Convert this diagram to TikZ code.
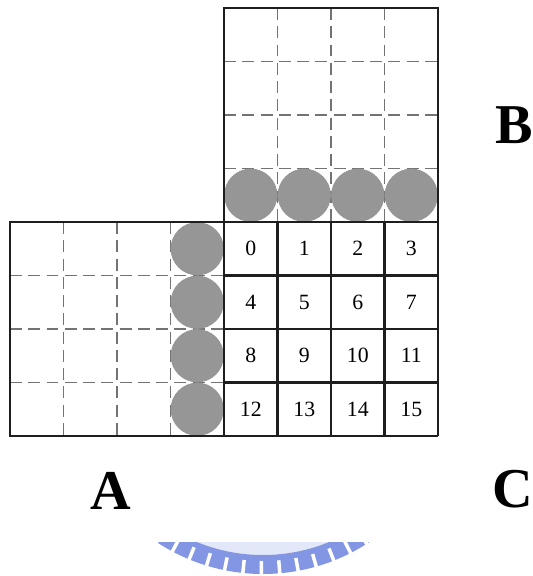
\documentclass[tikz,border=0pt]{standalone}
\usepackage{fontspec}
\setmainfont{Liberation Serif}
\definecolor{circgray}{RGB}{150,150,150}
\definecolor{dashgray}{RGB}{115,115,115}
\definecolor{linegray}{RGB}{30,30,30}
\definecolor{markblue}{RGB}{130,150,228}
\newcommand{\cs}{53.5}

\tikzset{
  solidline/.style={line width=3pt,linegray},
  dashline/.style={line width=2.4pt,dashgray,dash pattern=on 17pt off 9pt},
  token/.style={fill=circgray},
  cellnum/.style={font=\fontsize{31}{31}\selectfont,inner sep=0pt},
  blocklabel/.style={font=\fontsize{80}{80}\selectfont\bfseries,inner sep=0pt},
}

\begin{document}
\begin{tikzpicture}[x=0.05cm,y=-0.05cm]
    \useasboundingbox (0,0) rectangle (532,576);

    % Block B: dashed cells, tokens in the bottom row
    \begin{scope}[shift={(224,8)}]
        \foreach \i in {1,2,3} {
            \draw[dashline] (\i*\cs,0) -- (\i*\cs,4*\cs);
            \draw[dashline] (0,\i*\cs) -- (4*\cs,\i*\cs);
        }
        \foreach \i in {0,...,3}
            \fill[token] ({(\i+0.5)*\cs},{3.5*\cs}) circle (1.33cm);
        \draw[solidline] (0,4*\cs) -- (0,0) -- (4*\cs,0) -- (4*\cs,4*\cs);
    \end{scope}

    % Block A: dashed cells, tokens in the right column
    \begin{scope}[shift={(10,222)}]
        \foreach \i in {1,2,3} {
            \draw[dashline] (\i*\cs,0) -- (\i*\cs,4*\cs);
            \draw[dashline] (0,\i*\cs) -- (4*\cs,\i*\cs);
        }
        \foreach \i in {0,...,3}
            \fill[token] ({3.5*\cs},{(\i+0.5)*\cs}) circle (1.33cm);
        \draw[solidline] (4*\cs,0) -- (0,0) -- (0,4*\cs) -- (4*\cs,4*\cs);
    \end{scope}

    % Block C: numbered cells
    \begin{scope}[shift={(224,222)}]
        \foreach \i in {0,...,4} {
            \draw[solidline] (\i*\cs,0) -- (\i*\cs,4*\cs);
            \draw[solidline] (0,\i*\cs) -- (4*\cs,\i*\cs);
        }
        \foreach \r in {0,...,3}
            \foreach \c in {0,...,3} {
                \pgfmathtruncatemacro{\n}{4*\r+\c}
                \node[cellnum] (c\n) at ({(\c+0.5)*\cs},{(\r+0.5)*\cs}) {\n};
            }
    \end{scope}

    % Block labels
    \node[blocklabel,anchor=base] (labA) at (111,509) {A};
    \node[blocklabel,anchor=base west] (labB) at (495,143) {B};
    \node[blocklabel,anchor=base west] (labC) at (492,507) {C};

    % Watermark at the bottom edge
    \begin{scope}
        \clip (0,542) rectangle (532,576);
        \fill[markblue!22] (263,381) circle (8.7cm);
        \fill[markblue,even odd rule] (263,381) circle (9.65cm) (263,381) circle (8.7cm);
        \foreach \a in {57.5,63,...,125}
            \draw[white,line width=5pt] ({263+180*cos(\a)},{381+180*sin(\a)}) -- ({263+200*cos(\a)},{381+200*sin(\a)});
    \end{scope}
\end{tikzpicture}
\end{document}
